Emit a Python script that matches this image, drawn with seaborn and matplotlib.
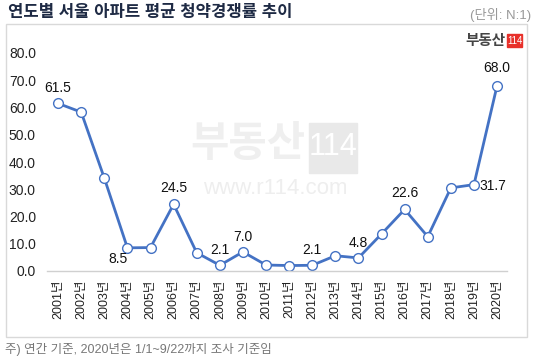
import numpy as np
import pandas as pd
import matplotlib
matplotlib.use("Agg")
import matplotlib.pyplot as plt
import seaborn as sns
from matplotlib.patches import Rectangle

sns.set_theme(style="white")
plt.rcParams["font.family"] = ["Liberation Sans", "Noto Sans CJK KR"]

# 데이터
years = [str(y) for y in range(2001, 2021)]
year_labels = [y + "년" for y in years]
values = [61.5, 58.3, 34.1, 8.5, 8.6, 24.5, 6.7, 2.1, 7.0, 2.2,
          2.0, 2.1, 5.6, 4.8, 13.6, 22.6, 12.6, 30.5, 31.7, 68.0]
y_ticks = [0, 10, 20, 30, 40, 50, 60, 70, 80]

# 라벨 표시할 연도와 위치 (dx, dy 포인트)
labels = {"2001": (0, 11), "2004": (-7, -8), "2006": (0, 12), "2008": (0, 11),
          "2009": (0, 11), "2012": (0, 11), "2014": (0, 11), "2016": (0, 12),
          "2019": (4, -1), "2020": (0, 13)}

df = pd.DataFrame({"year": years, "value": values})
df["x"] = np.arange(len(df))

W, H = 540, 363
fig = plt.figure(figsize=(W / 100, H / 100), dpi=100)

# 바깥 테두리 박스
fig.patches.append(Rectangle((6 / W, 1 - 337 / H), 521 / W, 313 / H,
                             transform=fig.transFigure, fill=False,
                             edgecolor="#d9d9d9", linewidth=1))

# 워터마크
fig.text(248 / W, 1 - 145 / H, "부동산", fontsize=30, fontweight="bold",
         color="#efefef", ha="center", va="center", zorder=0)
fig.patches.append(Rectangle((309 / W, 1 - 173 / H), 48 / W, 50 / H,
                             transform=fig.transFigure, color="#e9e9e9", zorder=0))
fig.text(333 / W, 1 - 147 / H, "114", fontsize=22, color="white",
         ha="center", va="center", zorder=0)
fig.text(275 / W, 1 - 188 / H, "www.r114.com", fontsize=16,
         color="#eeeeee", ha="center", va="center", zorder=0)

ax = fig.add_axes([47 / W, 1 - 271 / H, 460 / W, 218 / H])
sns.lineplot(x="x", y="value", data=df, ax=ax, color="#4472c4", linewidth=2,
             marker="o", markersize=7, markerfacecolor="white",
             markeredgecolor="#4472c4", markeredgewidth=1)

ax.set_xlim(-0.48, 19.43)
ax.set_ylim(0, 80)
ax.set_yticks(y_ticks)
ax.set_yticklabels([f"{v:.1f}" for v in y_ticks], fontsize=10, color="#222222")
ax.set_xticks(df["x"])
ax.set_xticklabels(year_labels, rotation=90, fontsize=9, color="#222222")
ax.tick_params(axis="x", pad=6, length=0)
ax.tick_params(axis="y", pad=8, length=0)
ax.set_xlabel("")
ax.set_ylabel("")
for s in ["top", "right", "left"]:
    ax.spines[s].set_visible(False)
ax.spines["bottom"].set_color("#d0d0d0")
ax.spines["bottom"].set_linewidth(1)
ax.patch.set_alpha(0)

for yr, (dx, dy) in labels.items():
    i = years.index(yr)
    ha = "left" if dx > 0 else "center"
    ax.annotate(f"{values[i]:.1f}", xy=(i, values[i]), xytext=(dx, dy),
                textcoords="offset points", ha=ha, va="center",
                fontsize=10, color="#111111", annotation_clip=False)

# 로고
fig.text(506 / W, 1 - 41 / H, "부동산", fontsize=10.5, fontweight="bold",
         color="#444444", ha="right", va="center")
fig.patches.append(Rectangle((507 / W, 1 - 47 / H), 15 / W, 13 / H,
                             transform=fig.transFigure, color="#e8302a"))
fig.text(514.5 / W, 1 - 41 / H, "114", fontsize=7, color="white",
         ha="center", va="center")

# 제목과 주석
fig.text(8 / W, 1 - 13 / H, "연도별 서울 아파트 평균 청약경쟁률 추이",
         fontsize=12, fontweight="bold", color="#1e2a44", ha="left", va="center")
fig.text(531 / W, 1 - 15 / H, "(단위: N:1)", fontsize=9.5, color="#999999",
         ha="right", va="center")
fig.text(5 / W, 1 - 350 / H, "주) 연간 기준, 2020년은 1/1~9/22까지 조사 기준임",
         fontsize=9, color="#777777", ha="left", va="center")

fig.savefig("out.png", dpi=100)
